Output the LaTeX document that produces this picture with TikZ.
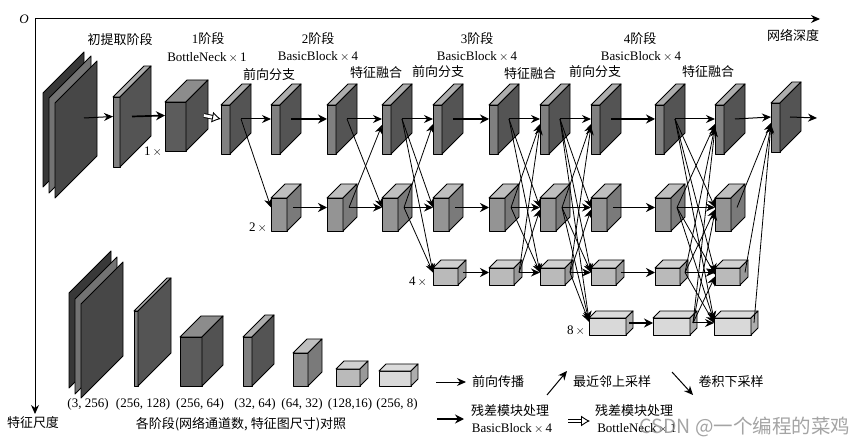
\documentclass[tikz,border=0pt]{standalone}
\usepackage{fontspec}
\setmainfont{Liberation Serif}
\newfontfamily\cjk{Noto Sans CJK SC}
\usepackage{xcolor}
\usepackage{tikz}
\usetikzlibrary{
	arrows.meta,
	calc,
	positioning
}
\definecolor{sheetF}{gray}{0.50}
\definecolor{sheetT}{gray}{0.68}
\definecolor{sheetS}{gray}{0.33}
\definecolor{darkF}{gray}{0.36}
\definecolor{darkT}{gray}{0.55}
\definecolor{darkS}{gray}{0.32}
\definecolor{midF}{gray}{0.58}
\definecolor{midT}{gray}{0.75}
\definecolor{midS}{gray}{0.48}
\definecolor{lowF}{gray}{0.73}
\definecolor{lowT}{gray}{0.82}
\definecolor{lowS}{gray}{0.60}
\definecolor{paleF}{gray}{0.85}
\definecolor{paleT}{gray}{0.86}
\definecolor{paleS}{gray}{0.68}
\tikzset{
	face/.style={draw=black, line width=0.9pt, line join=round},
	fwd/.style={line width=1pt, -{Stealth[length=9pt,width=8pt]}},
	res/.style={line width=1.7pt, -{Stealth[length=9pt,width=9pt]}},
	cross/.style={line width=0.8pt, -{Stealth[length=9pt,width=8pt]}},
	wide/.style={double, double distance=2.8pt, line width=0.9pt, -{Latex[open,length=9pt,width=11pt]}},
	zh/.style={font=\cjk\fontsize{13}{15}\selectfont, text=black, inner sep=0pt},
	en/.style={font=\fontsize{13}{15}\selectfont, text=black, inner sep=0pt}
}
% name, left, top, width, height, depth, out offset, colour
\newcommand{\blockbox}[8]{
	\node[face, fill=#8F, anchor=north west, inner sep=0pt, outer sep=0pt, minimum width=#4pt, minimum height=#5pt] (#1) at (#2,#3) {};
	\draw[face, fill=#8T] (#1.north west) -- ++(#6,-#6) -- ++(#4,0) -- (#1.north east) -- cycle;
	\draw[face, fill=#8S] (#1.north east) -- ++(#6,-#6) -- ++(0,#5) -- (#1.south east) -- cycle;
	\coordinate (#1in) at ($(#1.west)+(0,-#6/2)$);
	\coordinate (#1out) at ($(#1in)+(#7,0)$);
}
% left, top, height, depth, colour
\newcommand{\plate}[5]{
	\draw[face, fill=#5] (#1,#2) -- ++(#4,-#4) -- ++(0,#3) -- ++(-#4,#4) -- cycle;
}
\begin{document}
\begin{tikzpicture}[x=1pt, y=-1pt]
	\useasboundingbox (0,0) rectangle (865,446);
	\coordinate (O) at (35,19);
	\coordinate (XE) at (820,19);
	\coordinate (YE) at (35,414);
	\draw[fwd] (O) -- (XE);
	\draw[fwd] (O) -- (YE);
	\node[font=\itshape\fontsize{13}{15}\selectfont, inner sep=0pt] (Olabel) at (24,19) {O};

	\plate{43}{93}{94}{41}{black!78}
	\plate{49}{98}{95}{42}{black!55}
	\plate{55}{103}{95}{42}{black!72}
	\coordinate (Sout) at (84,118);
	\blockbox{P}{113}{97}{7}{70}{31}{19}{sheet}
	\blockbox{N}{165}{102}{21}{49}{22}{39}{dark}

	\foreach \n/\x in {A1/221,A2/271,A3/327,A4/382,A5/433,A6/489,A7/540,A8/591,A9/655,A10/715}{
		\blockbox{\n}{\x}{105}{9}{49}{21}{20}{sheet}
	}
	\blockbox{A11}{771}{103}{9}{49}{21}{19}{sheet}
	\foreach \n/\x in {B2/271,B3/327,B4/382,B5/433,B6/489,B7/540,B8/591,B9/655,B10/715}{
		\blockbox{\n}{\x}{198}{16}{33}{14}{22}{mid}
	}
	\foreach \n/\x in {C5/433,C6/489,C7/540,C8/591,C9/655,C10/715}{
		\blockbox{\n}{\x}{268}{25}{17}{8}{30}{low}
	}
	\foreach \n/\x in {D8/589,D9/653,D10/714}{
		\blockbox{\n}{\x}{318}{37}{17}{7}{40}{pale}
	}

	\coordinate (End) at (817,118);
	\draw[fwd] (Sout) -- (Pin);
	\draw[res] (Pout) -- (Nin);
	\draw[wide] (Nout) -- (A1in);
	\draw[fwd] (A11out) -- (End);
	\foreach \s/\t in {A1/A2,A3/A4,A4/A5,A6/A7,A7/A8,A9/A10,A10/A11,B3/B4,B4/B5,B6/B7,B7/B8,B9/B10,C6/C7,C7/C8,C9/C10,D9/D10}
		\draw[fwd] (\s out) -- (\t in);
	\foreach \s/\t in {A2/A3,A5/A6,A8/A9,B2/B3,B5/B6,B8/B9,C5/C6,C8/C9,D8/D9}
		\draw[res] (\s out) -- (\t in);
	\foreach \s/\t/\d in {A1/B2/0,A3/B4/0,A4/B5/0,A4/C5/0,A6/B7/0,A6/C7/0,A7/B8/0,A7/C8/0,A7/D8/3,A9/B10/0,A9/C10/0,A9/D10/3,
		B3/A4/-6,B4/A5/-5,B6/A7/-5,C6/A7/-7,B7/A8/-5,C7/A8/-7,B9/A10/-5,C9/A10/-7,D9/A10/-9,B10/A11/-6,C10/A11/-8,D10/A11/-7,
		B4/C5/0,B6/C7/0,B7/C8/0,B7/D8/2,C6/B7/-2,C7/B8/-2,C7/D8/1,B9/C10/-2,B9/D10/2,C9/B10/-2,C9/D10/0,D9/B10/-4,D9/C10/-4}
		\draw[cross] (\s out) -- ([yshift=\d pt]\t in);

	\plate{69}{293}{95}{42}{black!78}
	\plate{75}{299}{95}{42}{black!55}
	\plate{81}{304}{94}{42}{black!72}
	\blockbox{E1}{134}{311}{4}{75}{33}{0}{sheet}
	\blockbox{E2}{180}{337}{22}{49}{21}{0}{dark}
	\blockbox{E3}{243}{337}{9}{49}{22}{0}{sheet}
	\blockbox{E4}{293}{353}{15}{33}{14}{0}{mid}
	\blockbox{E5}{336}{369}{24}{17}{8}{0}{low}
	\blockbox{E6}{379}{371}{32}{15}{7}{0}{pale}

	\node[zh] (T0) at (120,40) {初提取阶段};
	\node[en] (T1) at (208,39) {1{\cjk 阶段}};
	\node[en] (B1) at (207,57) {BottleNeck\,$\times$\,1};
	\node[zh] (F1) at (269,75) {前向分支};
	\node[en] (T2) at (318,39) {2{\cjk 阶段}};
	\node[en] (B2) at (318,56) {BasicBlock\,$\times$\,4};
	\node[zh] (M1) at (376,73) {特征融合};
	\node[zh] (F2) at (438,72) {前向分支};
	\node[en] (T3) at (477,39) {3{\cjk 阶段}};
	\node[en] (B3) at (477,56) {BasicBlock\,$\times$\,4};
	\node[zh] (M2) at (530,74) {特征融合};
	\node[zh] (F3) at (595,72) {前向分支};
	\node[en] (T4) at (640,39) {4{\cjk 阶段}};
	\node[en] (B4) at (641,56) {BasicBlock\,$\times$\,4};
	\node[zh] (M3) at (708,72) {特征融合};
	\node[zh] (Depth) at (793,35) {网络深度};
	\node[en] (X1) at (153,152) {1\,$\times$};
	\node[en] (X2) at (258,228) {2\,$\times$};
	\node[en] (X4) at (418,282) {4\,$\times$};
	\node[en] (X8) at (576,331) {8\,$\times$};

	\foreach \n/\x/\txt in {L1/88/{(3, 256)},L2/143/{(256, 128)},L3/200/{(256, 64)},L4/255/{(32, 64)},L5/302/{(64, 32)},L6/350/{(128,16)},L7/397/{(256, 8)}}
		\node[en] (\n) at (\x,404) {\txt};
	\node[zh] (Scale) at (33,423) {特征尺度};
	\node[zh] (Cap) at (241,424) {各阶段(网络通道数, 特征图尺寸)对照};

	\coordinate (Ka) at (436,382);
	\coordinate (Kb) at (466,382);
	\coordinate (Kc) at (547,395);
	\coordinate (Kd) at (567,371);
	\coordinate (Ke) at (672,372);
	\coordinate (Kf) at (693,395);
	\coordinate (Kg) at (437,419);
	\coordinate (Kh) at (464,419);
	\coordinate (Ki) at (568,421);
	\coordinate (Kj) at (590,421);
	\draw[fwd] (Ka) -- (Kb);
	\draw[fwd] (Kc) -- (Kd);
	\draw[fwd] (Ke) -- (Kf);
	\draw[res] (Kg) -- (Kh);
	\draw[wide] (Ki) -- (Kj);
	\node[zh] (K1) at (498,382) {前向传播};
	\node[zh] (K2) at (612,382) {最近邻上采样};
	\node[zh] (K3) at (731,382) {卷积下采样};
	\node[zh] (K4) at (510,411) {残差模块处理};
	\node[en] (K5) at (512,428) {BasicBlock\,$\times$\,4};
	\node[zh] (K6) at (634,411) {残差模块处理};
	\node[en] (K7) at (637,428) {BottleNeck\,$\times$\,1};
	\node[font=\cjk\fontsize{19.5}{21}\selectfont, text=black!42, opacity=0.85, inner sep=0pt] (Mark) at (745,427) {CSDN @一个编程的菜鸡};
\end{tikzpicture}
\end{document}
